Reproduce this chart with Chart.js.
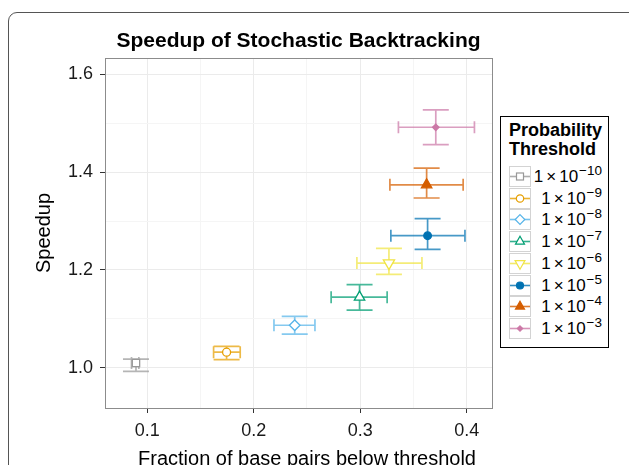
<!DOCTYPE html>
<html><head><meta charset="utf-8">
<script src="https://cdn.jsdelivr.net/npm/chart.js@4.4.0/dist/chart.umd.min.js"></script>
<style>
html,body{margin:0;padding:0;background:#fff;overflow:hidden}
#wrap{position:relative;width:629px;height:465px;font-family:"Liberation Sans",Arial,sans-serif;color:#000;overflow:hidden}
#frame{position:absolute;left:8px;top:12px;width:700px;height:600px;border:1px solid #555;border-radius:9px;box-sizing:border-box}
#title{position:absolute;left:0;width:597px;top:29px;text-align:center;font-weight:bold;font-size:21px;line-height:22px}
#xtitle{position:absolute;left:0;width:614px;top:448px;text-align:center;font-size:20px;line-height:20px}
canvas{position:absolute;left:0;top:0}
#legend{position:absolute;left:500px;top:116px;width:109px;height:232px;border:1px solid #000;box-sizing:border-box;background:#fff}
#legend .lt{position:absolute;left:8px;top:4px;font-weight:bold;font-size:18px;line-height:19px}
#legend .row{position:absolute;left:0;right:0;height:21.7px}
#legend .key{position:absolute;left:8px;top:0;width:22px;height:21px}
#legend .lab{position:absolute;right:6px;top:0;font-size:17px;line-height:22px;white-space:nowrap}
#legend .sup{position:relative;top:-7px;font-size:13.5px;margin-left:1px}
</style></head>
<body><div id="wrap">
<div id="frame"></div>
<canvas id="c" width="629" height="465"></canvas>
<div id="title">Speedup of Stochastic Backtracking</div>
<div id="xtitle">Fraction of base pairs below threshold</div>
<div id="legend"><div class="lt">Probability<br>Threshold</div></div>
</div>
<script>
// ---- data ----
const categories = ['1e-10','1e-9','1e-8','1e-7','1e-6','1e-5','1e-4','1e-3'];
const exponents = ['\u221210','\u22129','\u22128','\u22127','\u22126','\u22125','\u22124','\u22123'];
const fraction     = [0.0894,0.1745,0.2385,0.2994,0.3270,0.3633,0.3624,0.3710];
const fractionLow  = [0.0852,0.1623,0.2190,0.2727,0.2969,0.3288,0.3279,0.3359];
const fractionHigh = [0.0921,0.1873,0.2575,0.3253,0.3580,0.3984,0.3967,0.4073];
const speedup      = [1.0100,1.0320,1.0870,1.1445,1.2140,1.2700,1.3740,1.4915];
const speedupLow   = [0.9930,1.0170,1.0690,1.1180,1.1910,1.2420,1.3470,1.4560];
const speedupHigh  = [1.0178,1.0440,1.1050,1.1700,1.2440,1.3050,1.4080,1.5270];
const xTicks = [0.1,0.2,0.3,0.4];
const xMinor = [0.15,0.25,0.35];
const yTicks = [1.0,1.2,1.4,1.6];
const yMinor = [1.1,1.3,1.5];

// ---- styles ----
const colors = ['#999999','#E69F00','#56B4E9','#009E73','#F0E442','#0072B2','#D55E00','#CC79A7'];
const shapes = ['rect','circle','rectRot','triangle','triangle','circle','triangle','rectRot'];
const rotations = [0,0,0,0,180,0,0,0];
const radii = [5.2,4,5.3,6,6.5,3.8,6,3.2];
const filled = [false,false,false,false,false,true,true,true];
const FONT = '"Liberation Sans", Arial, sans-serif';

function rgba(hex,a){const n=parseInt(hex.slice(1),16);return `rgba(${n>>16&255},${n>>8&255},${n&255},${a})`;}
const isMajor = (arr,v)=>arr.some(t=>Math.abs(t-v)<1e-9);

const errorBars = {
  id:'errorBars',
  beforeDatasetsDraw(chart){
    const {ctx, scales:{x,y}} = chart;
    ctx.save();
    ctx.lineWidth = 1.7;
    for(let i=0;i<categories.length;i++){
      ctx.strokeStyle = rgba(colors[i],0.72);
      const px=x.getPixelForValue(fraction[i]), py=y.getPixelForValue(speedup[i]);
      const x0=x.getPixelForValue(fractionLow[i]), x1=x.getPixelForValue(fractionHigh[i]);
      const y0=y.getPixelForValue(speedupLow[i]), y1=y.getPixelForValue(speedupHigh[i]);
      const cw=13, ch=6;
      ctx.beginPath();
      ctx.moveTo(x0,py);ctx.lineTo(x1,py);
      ctx.moveTo(x0,py-ch);ctx.lineTo(x0,py+ch);
      ctx.moveTo(x1,py-ch);ctx.lineTo(x1,py+ch);
      ctx.moveTo(px,y0);ctx.lineTo(px,y1);
      ctx.moveTo(px-cw,y0);ctx.lineTo(px+cw,y0);
      ctx.moveTo(px-cw,y1);ctx.lineTo(px+cw,y1);
      ctx.stroke();
    }
    ctx.restore();
  },
  afterDraw(chart){
    const {ctx, chartArea:a} = chart;
    ctx.save();
    ctx.strokeStyle='#8c8c8c';ctx.lineWidth=1;
    ctx.strokeRect(Math.round(a.left)+0.5,Math.round(a.top)+0.5,Math.round(a.right-a.left),Math.round(a.bottom-a.top));
    ctx.restore();
  }
};

new Chart(document.getElementById('c'),{
  type:'scatter',
  data:{datasets:categories.map((c,i)=>({
    label:c,
    data:[{x:fraction[i],y:speedup[i]}],
    pointStyle:shapes[i], pointRotation:rotations[i],
    pointRadius:radii[i], pointHoverRadius:radii[i],
    borderColor:colors[i], backgroundColor:filled[i]?colors[i]:'#ffffff',
    borderWidth:1.3, pointHoverBorderWidth:1.3
  }))},
  options:{
    responsive:false, animation:false, devicePixelRatio:1,
    events:[],
    layout:{padding:{left:0,top:58,right:137,bottom:0}},
    plugins:{legend:{display:false},tooltip:{enabled:false},title:{display:false}},
    scales:{
      x:{type:'linear',min:0.0603,max:0.4238,
        afterBuildTicks:s=>{s.ticks=[...xTicks,...xMinor].sort((a,b)=>a-b).map(v=>({value:v}));},
        afterFit:s=>{s.height=57;},
        ticks:{autoSkip:false,maxRotation:0,padding:7,color:'#1a1a1a',font:{family:FONT,size:18},
          callback:v=>isMajor(xTicks,v)?v.toFixed(1):''},
        grid:{lineWidth:1,tickLength:5,drawTicks:true,
          color:c=>isMajor(xTicks,c.tick.value)?'#EBEBEB':'#F5F5F5',
          tickColor:c=>isMajor(xTicks,c.tick.value)?'#333333':'rgba(0,0,0,0)'},
        border:{display:false},
        title:{display:false}
      },
      y:{type:'linear',min:0.918,max:1.633,
        afterBuildTicks:s=>{s.ticks=[...yTicks,...yMinor].sort((a,b)=>a-b).map(v=>({value:v}));},
        afterFit:s=>{s.width=105;},
        ticks:{autoSkip:false,padding:7,color:'#1a1a1a',font:{family:FONT,size:18},
          callback:v=>isMajor(yTicks,v)?v.toFixed(1):''},
        grid:{lineWidth:1,tickLength:5,drawTicks:true,
          color:c=>isMajor(yTicks,c.tick.value)?'#EBEBEB':'#F5F5F5',
          tickColor:c=>isMajor(yTicks,c.tick.value)?'#333333':'rgba(0,0,0,0)'},
        border:{display:false},
        title:{display:true,text:'Speedup',color:'#000',font:{family:FONT,size:20},padding:{top:32,bottom:0}}
      }
    }
  },
  plugins:[errorBars]
});

// ---- legend ----
const leg=document.getElementById('legend');
const NS='http://www.w3.org/2000/svg';
function markerSVG(i){
  const c=colors[i], f=filled[i]?c:'#fff', cx=11, cy=10.5;
  let m='';
  if(i===0) m=`<rect x="${cx-3.5}" y="${cy-3.5}" width="7" height="7" fill="${f}" stroke="${c}" stroke-width="1.2"/>`;
  else if(shapes[i]==='circle') m=`<circle cx="${cx}" cy="${cy}" r="${radii[i]-0.3}" fill="${f}" stroke="${c}" stroke-width="1.2"/>`;
  else if(shapes[i]==='rectRot'){const r=radii[i]-0.5;m=`<polygon points="${cx},${cy-r} ${cx+r},${cy} ${cx},${cy+r} ${cx-r},${cy}" fill="${f}" stroke="${c}" stroke-width="1.2"/>`;}
  else {const r=radii[i]-0.8, s=rotations[i]?-1:1;
    const p=[[cx,cy-s*r],[cx+r*0.866,cy+s*r*0.5],[cx-r*0.866,cy+s*r*0.5]].map(q=>q.join(',')).join(' ');
    m=`<polygon points="${p}" fill="${f}" stroke="${c}" stroke-width="1.2"/>`;}
  return `<svg class="key" xmlns="${NS}" width="22" height="21" viewBox="0 0 22 21"><rect x="0.5" y="0.5" width="21" height="20" fill="#fff" stroke="#d3d3d3"/><line x1="1" y1="${cy}" x2="21" y2="${cy}" stroke="${rgba(c,0.8)}" stroke-width="1.6"/>${m}</svg>`;
}
categories.forEach((c,i)=>{
  const row=document.createElement('div');
  row.className='row';
  row.style.top=(49+i*21.7)+'px';
  row.innerHTML=markerSVG(i)+`<div class="lab">1<span style="margin:0 3px">\u00d7</span>10<span class="sup">${exponents[i]}</span></div>`;
  leg.appendChild(row);
});
</script>
</body></html>
